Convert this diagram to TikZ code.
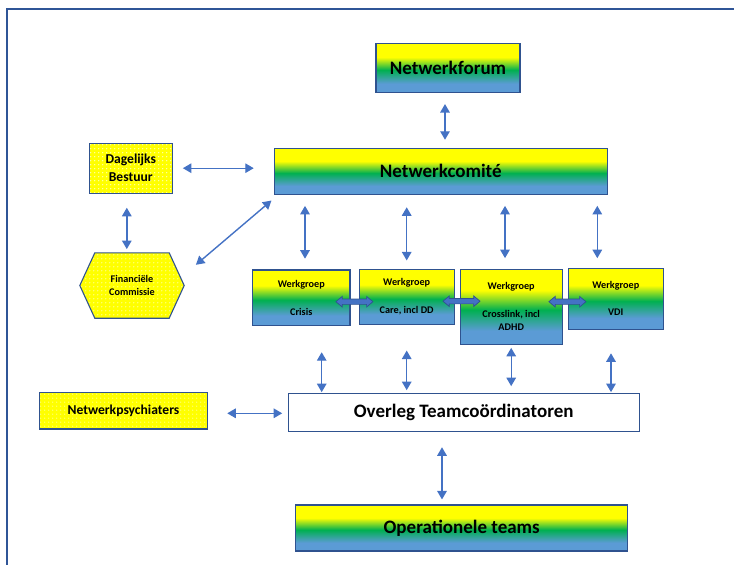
\documentclass[tikz,border=0pt]{standalone}
\usepackage{fontspec}
\setmainfont{Carlito}
\usetikzlibrary{arrows.meta,shapes.arrows,backgrounds,calc}
\definecolor{cyellow}{HTML}{FFFF00}
\definecolor{cgreen}{HTML}{00B050}
\definecolor{cblue}{HTML}{5B9BD5}
\definecolor{bdr}{HTML}{2F528F}
\definecolor{abl}{HTML}{4472C4}
\definecolor{frm}{HTML}{2F5597}
\pgfdeclareverticalshading{ygb}{100bp}{color(0bp)=(cblue); color(25bp)=(cblue); color(34bp)=(cblue); color(48bp)=(cgreen); color(61bp)=(cyellow); color(75bp)=(cyellow); color(100bp)=(cyellow)}
\tikzset{
  gradbox/.style={draw=bdr, line width=1.1pt, shade, shading=ygb, inner sep=0pt, align=center, font=\bfseries},
  bigtxt/.style={font=\fontsize{19}{22}\selectfont\bfseries},
  midtxt/.style={font=\fontsize{13.6}{18}\selectfont\bfseries},
  smalltxt/.style={font=\fontsize{10.2}{13.6}\selectfont\bfseries},
  dotbox/.style={draw=bdr, line width=1.1pt, inner sep=0pt, align=center},
  wdot/.style={fill=white, fill opacity=0.85},
  arr/.style={draw=abl, line width=1.4pt, {Triangle[width=9.5pt,length=8.5pt]}-{Triangle[width=9.5pt,length=8.5pt]}},
  dbl/.style={double arrow, draw=bdr, fill=abl, line width=0.7pt, minimum height=37pt, minimum width=10pt, inner sep=2.3pt, double arrow head extend=2.6pt, double arrow tip angle=80},
  frame/.style={draw=frm, line width=1.5pt}
}
\begin{document}
\begin{tikzpicture}[x=1pt,y=-1pt]
\useasboundingbox (0,0) rectangle (734,565);
\draw[frame] (7,566) -- (7,9) -- (735,9);

% main boxes
\node[gradbox, bigtxt, minimum width=144pt, minimum height=49pt] (forum) at (448,68) {Netwerkforum};
\node[gradbox, bigtxt, minimum width=333pt, minimum height=46pt] (comite) at (440.8,171.3) {Netwerkcomit\'e};
\node[dotbox, midtxt, minimum width=83pt, minimum height=50pt] (dag) at (130.8,168.2) {Dagelijks\\Bestuur};
\node[smalltxt, align=center, minimum width=104pt, minimum height=65pt, inner sep=0pt] (fin) at (132,285.5) {Financi\"ele\\Commissie};
\node[dotbox, midtxt, minimum width=168.4pt, minimum height=36.3pt] (psych) at (123.5,410.8) {Netwerkpsychiaters};

\begin{scope}[on background layer]
  % Dagelijks Bestuur fill
  \fill[cyellow] (dag.north west) rectangle (dag.south east);
  \begin{scope}
    \clip (dag.north west) rectangle (dag.south east);
    \foreach \x in {2,6,...,86} \foreach \y in {2,6,...,50}
      \fill[wdot] ([shift={(\x pt,-\y pt)}]dag.north west) circle (0.6pt);
  \end{scope}
  % Netwerkpsychiaters fill
  \fill[cyellow] (psych.north west) rectangle (psych.south east);
  \begin{scope}
    \clip (psych.north west) rectangle (psych.south east);
    \foreach \x in {2,6,...,170} \foreach \y in {2,6,...,38}
      \fill[wdot] ([shift={(\x pt,-\y pt)}]psych.north west) circle (0.6pt);
  \end{scope}
  % Financiele Commissie hexagon
  \fill[cyellow] (fin.west) -- ([xshift=15pt]fin.north west) -- ([xshift=-15pt]fin.north east) -- (fin.east) -- ([xshift=-15pt]fin.south east) -- ([xshift=15pt]fin.south west) -- cycle;
  \begin{scope}
    \clip (fin.west) -- ([xshift=15pt]fin.north west) -- ([xshift=-15pt]fin.north east) -- (fin.east) -- ([xshift=-15pt]fin.south east) -- ([xshift=15pt]fin.south west) -- cycle;
    \foreach \x in {2,6,...,106} \foreach \y in {2,6,...,66}
      \fill[wdot] ([shift={(\x pt,-\y pt)}]fin.north west) circle (0.6pt);
  \end{scope}
\end{scope}
\draw[bdr, line width=1.1pt] (fin.west) -- ([xshift=15pt]fin.north west) -- ([xshift=-15pt]fin.north east) -- (fin.east) -- ([xshift=-15pt]fin.south east) -- ([xshift=15pt]fin.south west) -- cycle;

% werkgroepen
\node[gradbox, smalltxt, minimum width=97.3pt, minimum height=55.7pt] (crisis) at (301.3,297.8) {Werkgroep\\[13.8pt]Crisis};
\node[gradbox, smalltxt, minimum width=95.3pt, minimum height=55pt] (care) at (406.7,296.8) {Werkgroep\\[13.8pt]Care, incl DD};
\node[gradbox, smalltxt, minimum width=102.3pt, minimum height=75pt] (cross) at (511.2,306.8) {Werkgroep\\[13.8pt]Crosslink, incl\\ADHD};
\node[gradbox, smalltxt, minimum width=95pt, minimum height=60.7pt] (vdi) at (615.8,298.7) {Werkgroep\\[13.8pt]VDI};

\node[dbl] (dA) at (354.4,301.7) {};
\node[dbl] (dB) at (461.5,301.2) {};
\node[dbl] (dC) at (567.4,301.7) {};

% lower boxes
\node[draw=bdr, line width=1.1pt, fill=white, bigtxt, minimum width=350.7pt, minimum height=38.4pt, inner sep=0pt] (overleg) at (463.7,412.5) {Overleg Teamco\"ordinatoren};
\node[gradbox, bigtxt, minimum width=332pt, minimum height=46pt] (oper) at (461.7,528) {Operationele teams};

% connectors
\draw[arr, shorten <=11pt, shorten >=8pt] ([xshift=-3pt]forum.south) -- ([xshift=-3pt]forum.south |- comite.north);
\draw[arr, shorten <=10pt, shorten >=20pt] (dag.east) -- (dag.east -| comite.west);
\draw[arr, shorten <=14pt, shorten >=3.7pt] ([xshift=-4pt]dag.south) -- ([xshift=-4pt]dag.south |- fin.north);
\draw[arr] ([shift={(11.7pt,-12pt)}]fin.north east) -- ([shift={(-2.3pt,-5.7pt)}]comite.south west);

\draw[arr, shorten <=11pt, shorten >=10.7pt] ([xshift=3.7pt]crisis.north |- comite.south) -- ([xshift=3.7pt]crisis.north);
\draw[arr, shorten <=12.4pt, shorten >=8.3pt] (care.north |- comite.south) -- (care.north);
\draw[arr, shorten <=11pt, shorten >=10.6pt] ([xshift=-6.2pt]cross.north |- comite.south) -- ([xshift=-6.2pt]cross.north);
\draw[arr, shorten <=11pt, shorten >=9.6pt] ([xshift=-18.5pt]vdi.north |- comite.south) -- ([xshift=-18.5pt]vdi.north);

\draw[arr, shorten <=26pt, shorten >=0.6pt] ([xshift=20.4pt]crisis.south) -- ([xshift=20.4pt]crisis.south |- overleg.north);
\draw[arr, shorten <=25.7pt, shorten >=2.6pt] (care.south) -- (care.south |- overleg.north);
\draw[arr, shorten <=3pt, shorten >=6.6pt] (cross.south) -- (cross.south |- overleg.north);
\draw[arr, shorten <=23.7pt, shorten >=0.6pt] ([xshift=-4.8pt]vdi.south) -- ([xshift=-4.8pt]vdi.south |- overleg.north);

\draw[arr, shorten <=19pt, shorten >=5.6pt] ([yshift=-2.5pt]psych.east) -- ([yshift=-2.5pt]psych.east -| overleg.west);
\draw[arr, shorten <=15pt, shorten >=5pt] ([xshift=-21.7pt]overleg.south) -- ([xshift=-21.7pt]overleg.south |- oper.north);
\end{tikzpicture}
\end{document}
